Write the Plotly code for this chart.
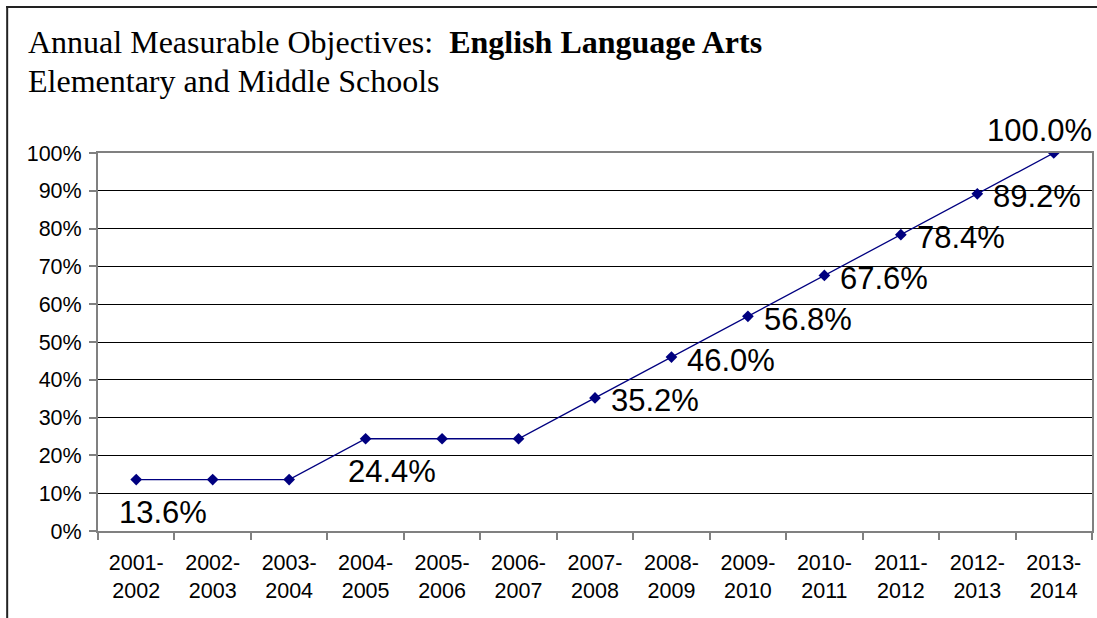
import plotly.graph_objects as go

categories = ["2001-<br>2002", "2002-<br>2003", "2003-<br>2004", "2004-<br>2005", "2005-<br>2006",
              "2006-<br>2007", "2007-<br>2008", "2008-<br>2009", "2009-<br>2010", "2010-<br>2011",
              "2011-<br>2012", "2012-<br>2013", "2013-<br>2014"]
values = [13.6, 13.6, 13.6, 24.4, 24.4, 24.4, 35.2, 46.0, 56.8, 67.6, 78.4, 89.2, 100.0]
labelled = [0, 3, 6, 7, 8, 9, 10, 11, 12]
y_ticks = list(range(0, 101, 10))

# label offsets in pixels (styling, not data)
label_offsets = {0: (27, -33), 3: (26, -33), 12: (-14, 23)}
default_offset = (60, -3)

W, H = 1097, 618
ML, MR, MT, MB = 98, 3, 153, 87
PW, PH = W - ML - MR, H - MT - MB

def px_x(px):
    return (px - ML) / PW

def px_y(py):
    return (H - MB - py) / PH

fig = go.Figure()
fig.add_trace(go.Scatter(
    x=categories, y=values, mode="lines+markers",
    line=dict(color="#000080", width=1.3),
    marker=dict(symbol="diamond", size=9, color="#000080"),
    hoverinfo="skip", showlegend=False,
))

annotations = []
for i in labelled:
    dx, dy = label_offsets.get(i, default_offset)
    annotations.append(dict(
        x=categories[i], y=values[i], xref="x", yref="y",
        text=f"{values[i]:.1f}%", showarrow=False,
        xanchor="center", yanchor="middle", xshift=dx, yshift=dy,
        font=dict(family="Arial, Liberation Sans", size=31, color="black"),
    ))

annotations.append(dict(
    x=px_x(26), y=px_y(42), xref="paper", yref="paper", xanchor="left", yanchor="middle",
    text="Annual Measurable Objectives:  <b>English Language Arts</b>", showarrow=False,
    font=dict(family="Times New Roman, Liberation Serif", size=32, color="black"),
))
annotations.append(dict(
    x=px_x(26), y=px_y(81), xref="paper", yref="paper", xanchor="left", yanchor="middle",
    text="Elementary and Middle Schools", showarrow=False,
    font=dict(family="Times New Roman, Liberation Serif", size=32, color="black"),
))

shapes = [
    dict(type="line", xref="paper", yref="paper", x0=px_x(7), x1=px_x(7), y0=px_y(6), y1=px_y(640),
         line=dict(color="#222222", width=2)),
    dict(type="line", xref="paper", yref="paper", x0=px_x(6), x1=px_x(1110), y0=px_y(7), y1=px_y(7),
         line=dict(color="#222222", width=2)),
]

fig.update_layout(
    width=W, height=H,
    margin=dict(l=ML, r=MR, t=MT, b=MB),
    paper_bgcolor="white", plot_bgcolor="white",
    annotations=annotations, shapes=shapes,
    font=dict(family="Arial, Liberation Sans", size=21.5, color="black"),
)
fig.update_xaxes(
    type="category", range=[-0.5, 12.5], tickson="boundaries",
    ticks="outside", ticklen=7, tickcolor="#808080", tickwidth=2,
    showline=True, linecolor="#808080", linewidth=2, mirror=True,
    showgrid=False, tickfont=dict(size=21.5), ticklabelstandoff=11,
)
fig.update_yaxes(
    range=[0, 100], tickvals=y_ticks, ticktext=[f"{v}%" for v in y_ticks],
    ticks="outside", ticklen=7, tickcolor="#808080", tickwidth=2,
    showline=True, linecolor="#808080", linewidth=2, mirror=True,
    showgrid=True, gridcolor="#000000", gridwidth=1, zeroline=False,
    tickfont=dict(size=21.5), ticklabelstandoff=3,
)

fig.write_html("out.html")
